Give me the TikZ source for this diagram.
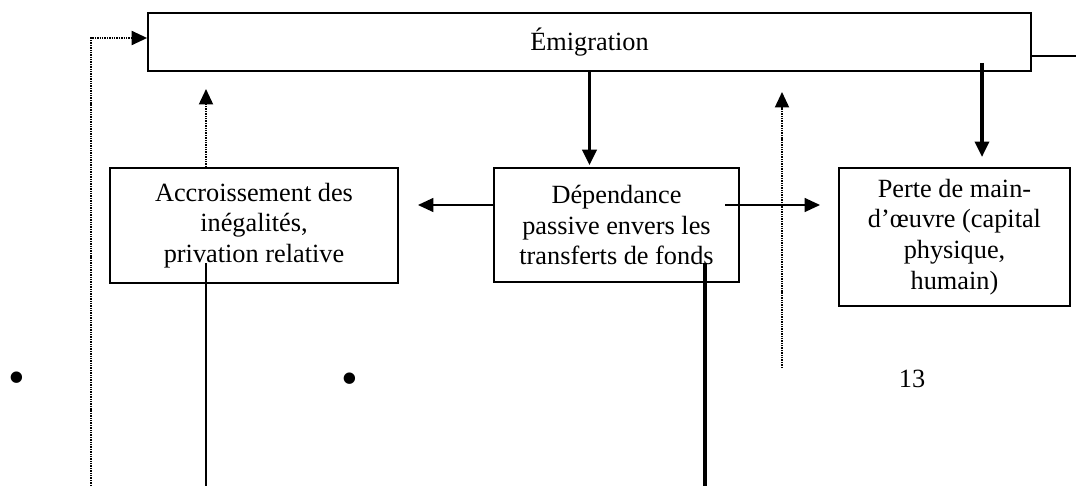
\documentclass[tikz,border=0pt]{standalone}
\usepackage{fontspec}
\setmainfont{Liberation Serif}
\usepackage{tikz}
\usetikzlibrary{
    arrows.meta,
    calc,
    positioning
}
\tikzset{
    box/.style={draw, line width=1.1pt, align=center, inner sep=0pt,
        font=\fontsize{18.7}{21.8}\selectfont},
    plain/.style={font=\fontsize{18.7}{21.8}\selectfont},
    dot/.style={font=\fontsize{34}{34}\selectfont, inner sep=0pt},
    tip/.style={-{Triangle[length=11pt,width=10pt]}},
    thin/.style={line width=1pt},
    thick/.style={line width=2.3pt},
    dotline/.style={line width=1.3pt, dash pattern=on 1pt off 0.7pt}
}

\begin{document}
\begin{tikzpicture}[x=0.025cm, y=-0.025cm]
    \useasboundingbox (0, 0) rectangle (1076, 486);
    \node[box, minimum width=22.075cm, minimum height=1.45cm] (emi) at (589.5, 42) {Émigration};
    \node[box, minimum width=7.2cm, minimum height=2.875cm] (acc) at (254, 225.5)
        {Accroissement des\\inégalités,\\privation relative};
    \node[box, minimum width=6.125cm, minimum height=2.85cm] (dep) at (616.5, 225)
        {Dépendance\\passive envers les\\transferts de fonds};
    \node[box, minimum width=5.775cm, minimum height=3.45cm] (perte) at (954.5, 237)
        {Perte de main-\\d’œuvre (capital\\physique,\\humain)};
    \node[dot] (b1) at (17, 383) {\textbullet};
    \node[dot] (b2) at (350, 384) {\textbullet};
    \node[plain] (num) at (912, 379) {13};

    \coordinate (fb) at (91, 486);
    \coordinate (upa) at (206, 89);
    \coordinate (acclow) at (206, 486);
    \coordinate (lt) at (418, 205);
    \coordinate (rs) at (725, 205);
    \coordinate (rt) at (820, 205);
    \coordinate (ups) at (782, 368);
    \coordinate (upt) at (782, 92);
    \coordinate (dps) at (705, 263);
    \coordinate (dpe) at (705, 486);
    \coordinate (ps) at (982, 63);
    \coordinate (pt) at (982, 157);
    \coordinate (er) at (1076, 56);

    \draw[dotline, tip] (fb) |- ($(emi.west)+(0, -4)$);
    \draw[dotline, tip] (upa |- acc.north) -- (upa);
    \draw[dotline, tip] (ups) -- (upt);
    \draw[thick, tip] (emi.south) -- ($(emi.south |- dep.north)+(0, -2)$);
    \draw[thick, tip] (ps) -- (pt);
    \draw[thin, tip] (lt -| dep.west) -- (lt);
    \draw[thin, tip] (rs) -- (rt);
    \draw[thin] (er -| emi.east) -- (er);
    \draw[thin] (206, 263) -- (acclow);
    \draw[thick] (dps) -- (dpe);
\end{tikzpicture}
\end{document}
